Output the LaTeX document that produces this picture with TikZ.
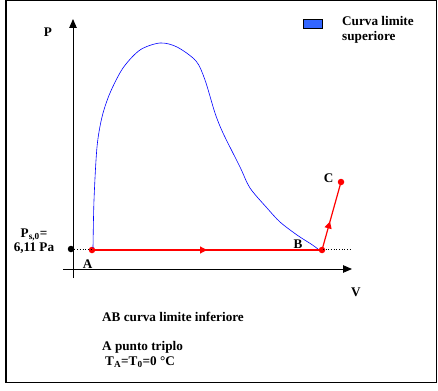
\documentclass[tikz,border=0pt]{standalone}
\usepackage{fontspec}
\setmainfont{Liberation Serif}
\usetikzlibrary{positioning,arrows.meta,decorations.markings}
\definecolor{legblu}{RGB}{51,102,255}
\def \fs {\bfseries\fontsize{13.2}{15}\selectfont}

\begin{document}
\begin{tikzpicture}[x=1pt,y=-1pt,node distance=2pt,
    lbl/.style={font=\fs,inner sep=0pt},
    punto/.style={circle,fill=red,inner sep=0pt,minimum size=6.5pt},
    asse/.style={line width=0.9pt,-{Triangle[length=9pt,width=7.5pt]}},
    percorso/.style={red,line width=1.2pt,postaction={decorate},
      decoration={markings,mark=at position #1 with {\arrow{Triangle[length=7pt,width=7pt]}}}}]
    \useasboundingbox (0,0) rectangle (438,390);
    \draw[line width=1.4pt] (6,0.7) rectangle (436.3,382.6);
    % assi
    \coordinate (ybot) at (73,278);
    \coordinate (ytop) at (73,19);
    \coordinate (xsx) at (63,269);
    \coordinate (xdx) at (352,269);
    \draw[asse] (ybot) -- (ytop);
    \draw[asse] (xsx) -- (xdx);
    \node[lbl] (P) at (48,32) {P};
    \node[lbl] (V) at (356,292) {V};
    % punti
    \node[circle,fill=black,inner sep=0pt,minimum size=6.5pt] (P0) at (71,249) {};
    \node[punto] (A) at (92,250) {};
    \node[punto] (B) at (322,250) {};
    \node[punto] (C) at (341,182) {};
    \coordinate (fine) at (350,249);
    \node[lbl,below left=7pt and -3pt of A] (lA) {A};
    \node[lbl,above left=-1pt and 17pt of B] (lB) {B};
    \node[lbl,above left=-3pt and 5pt of C] (lC) {C};
    \node[lbl,align=center] (ps) at (34,241) {P\textsubscript{s,0}=\\[-1pt]6,11 Pa};
    % curva limite superiore
    \draw[blue,line width=0.6pt] plot[smooth,tension=0.5] coordinates {
      (93,248) (94,200) (97,147) (102,117) (110,93) (123,68) (140,50)
      (160,43) (177,47) (196,61) (205,80) (215,113) (223,133) (240,167)
      (250,188) (267,208) (280,222) (297,235) (311,244) (318,249)};
    % isobara
    \draw[dotted,line width=0.7pt] (P0) -- (fine);
    \draw[percorso=0.5] (A.center) -- (B.center);
    \draw[percorso=0.42] (B.center) -- (C.center);
    % legenda
    \draw[fill=legblu,line width=0.8pt] (303,19.5) rectangle (322,28) coordinate (leg);
    \node[lbl,anchor=west,align=left] (tleg) at (342,30) {Curva limite\\superiore};
    % testo
    \node[lbl,anchor=west] (t1) at (102,317) {AB curva limite inferiore};
    \node[lbl,anchor=west] (t2) at (102,347) {A punto triplo};
    \node[lbl,anchor=west] (t3) at (105,362) {T\textsubscript{A}=T\textsubscript{0}=0 °C};
\end{tikzpicture}
\end{document}
